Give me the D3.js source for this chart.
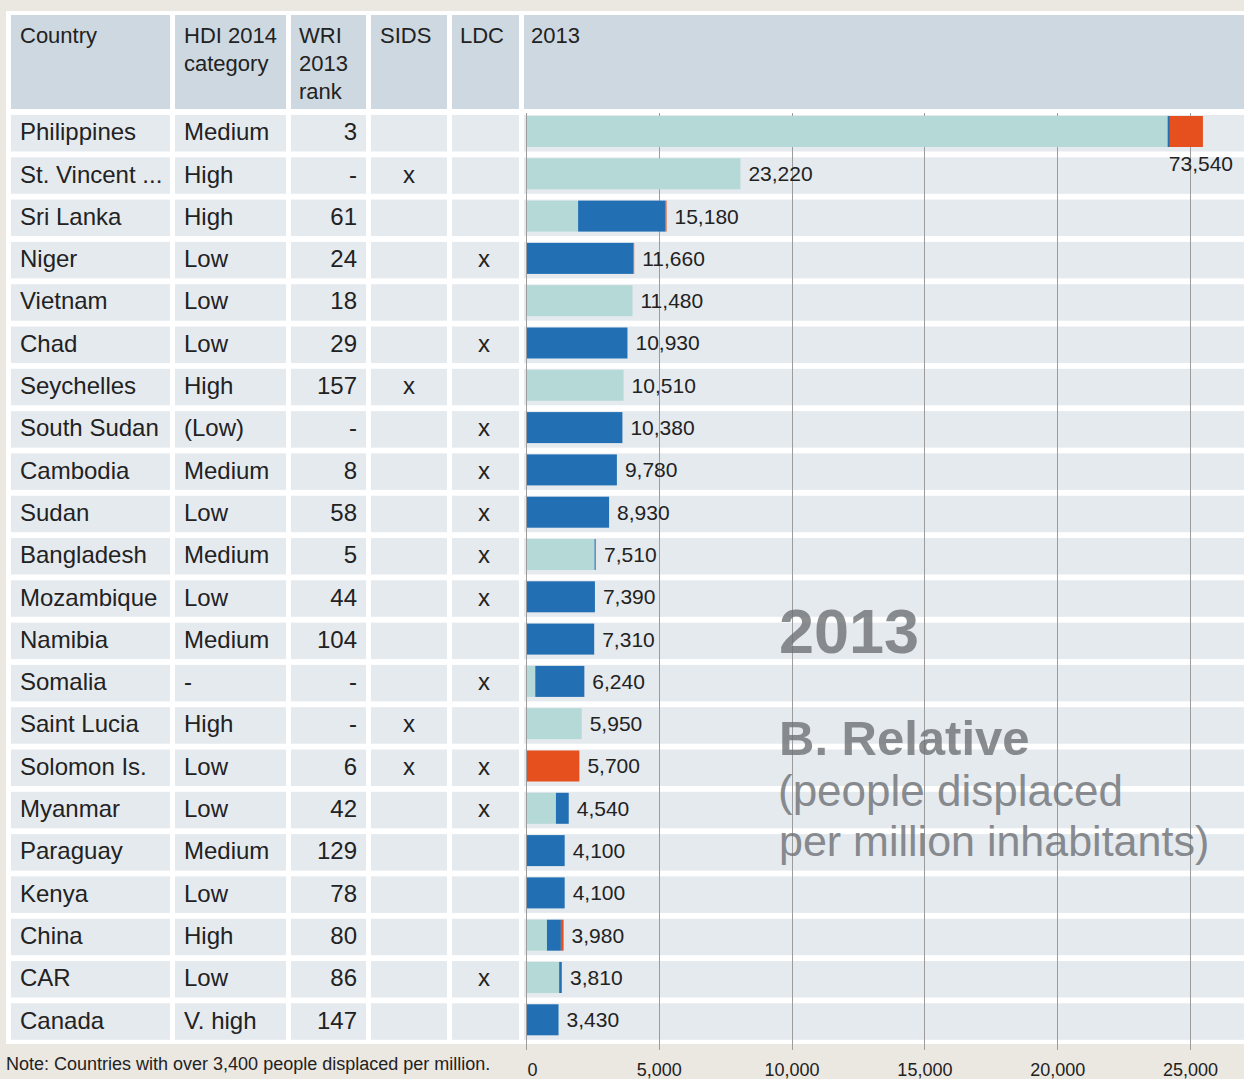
<!DOCTYPE html>
<html><head><meta charset="utf-8">
<script src="https://cdn.jsdelivr.net/npm/d3@7"></script>
<style>
html,body{margin:0;padding:0;background:#ebe7e1;}
svg{display:block;font-family:"Liberation Sans",Arial,sans-serif;}
</style>
</head><body>
<svg id="c" width="1244" height="1079"></svg>
<script>
// ---------------- DATA ----------------
const countries = ["Philippines","St. Vincent ...","Sri Lanka","Niger","Vietnam","Chad","Seychelles","South Sudan","Cambodia","Sudan","Bangladesh","Mozambique","Namibia","Somalia","Saint Lucia","Solomon Is.","Myanmar","Paraguay","Kenya","China","CAR","Canada"];
const hdiCategory = ["Medium","High","High","Low","Low","Low","High","(Low)","Medium","Low","Medium","Low","Medium","-","High","Low","Low","Medium","Low","High","Low","V. high"];
const wriRank = ["3","-","61","24","18","29","157","-","8","58","5","44","104","-","-","6","42","129","78","80","86","147"];
const sids = [false,true,false,false,false,false,true,false,false,false,false,false,false,false,true,true,false,false,false,false,false,false];
const ldc  = [false,false,false,true,false,true,false,true,true,true,true,true,false,true,false,true,true,false,false,false,true,false];
// stacked segments (people displaced per million), light teal / blue / orange
const tealValues   = [69700,23220,5560,0,11480,0,10510,0,0,0,7350,0,0,900,5950,0,3150,0,0,2170,3500,0];
const blueValues   = [250,0,9520,11560,0,10930,0,10380,9780,8930,80,7390,7310,5340,0,0,1390,4100,4100,1520,280,3430];
const orangeValues = [3590,0,100,100,0,0,0,0,0,0,80,0,0,0,0,5700,0,0,0,290,30,0];
const totals = [73540,23220,15180,11660,11480,10930,10510,10380,9780,8930,7510,7390,7310,6240,5950,5700,4540,4100,4100,3980,3810,3430];
const axisTicks = [0,5000,10000,15000,20000,25000];
const headers = [["Country"],["HDI 2014","category"],["WRI","2013","rank"],["SIDS"],["LDC"],["2013"]];
const noteText = "Note: Countries with over 3,400 people displaced per million.";
const annotation = ["2013","B. Relative","(people displaced","per million inhabitants)"];

// ---------------- LAYOUT ----------------
const W = 1244, H = 1079;
const colBounds = [[11,170],[175,286],[291,366],[371,447],[452,519],[524,1244]];
const colors = {teal:"#b4d9d6", blue:"#2270b3", orange:"#e5501e",
  header:"#cdd8e1", row:"#e5eaef", grid:"#9c9c9c", text:"#222222"};

const svg = d3.select("#c");
svg.append("rect").attr("width",W).attr("height",H).attr("fill","#ebe7e1");
svg.append("rect").attr("x",6).attr("y",11).attr("width",W-6).attr("height",1033).attr("fill","#ffffff");

const y = d3.scaleBand().domain(countries).range([115, 1039.8]).paddingInner(0.137).paddingOuter(0);
const xBar = d3.scaleLinear().domain([0,78000]).range([527, 527 + 78000/108.8]);
const xAxis = d3.scaleLinear().domain([0,25000]).range([526, 1190]);

// header
const hg = svg.append("g");
colBounds.forEach((b,i)=>{
  hg.append("rect").attr("x",b[0]).attr("y",15).attr("width",b[1]-b[0]).attr("height",94).attr("fill",colors.header);
});
const headerX = [20,184,299,380,460,531];
headers.forEach((lines,i)=>{
  lines.forEach((t,j)=>{
    hg.append("text").attr("x",headerX[i]).attr("y",43+j*28)
      .attr("font-size",22).attr("fill",colors.text).text(t);
  });
});

// row backgrounds
const rg = svg.append("g");
countries.forEach(c=>{
  colBounds.forEach(b=>{
    rg.append("rect").attr("x",b[0]).attr("y",y(c)).attr("width",b[1]-b[0]).attr("height",y.bandwidth()).attr("fill",colors.row);
  });
});

// gridlines
const gg = svg.append("g");
gg.selectAll("line").data(axisTicks).join("line")
  .attr("x1",d=>Math.round(xAxis(d))+0.5).attr("x2",d=>Math.round(xAxis(d))+0.5)
  .attr("y1",113).attr("y2",1050)
  .attr("stroke",colors.grid).attr("stroke-width",1);

// table text
const tg = svg.append("g").attr("font-size",24).attr("fill",colors.text);
countries.forEach((c,i)=>{
  const by = y(c) + y.bandwidth()/2 + 7;
  tg.append("text").attr("x",20).attr("y",by).text(c);
  tg.append("text").attr("x",184).attr("y",by).text(hdiCategory[i]);
  tg.append("text").attr("x",357).attr("y",by).attr("text-anchor","end").text(wriRank[i]);
  if (sids[i]) tg.append("text").attr("x",409).attr("y",by).attr("text-anchor","middle").text("x");
  if (ldc[i]) tg.append("text").attr("x",484).attr("y",by).attr("text-anchor","middle").text("x");
});

// bars
const bg = svg.append("g");
countries.forEach((c,i)=>{
  const segs = [[tealValues[i],colors.teal],[blueValues[i],colors.blue],[orangeValues[i],colors.orange]];
  let acc = 0;
  segs.forEach(([v,col])=>{
    if (v>0){
      bg.append("rect").attr("x",xBar(acc)).attr("y",y(c)+1)
        .attr("width",xBar(acc+v)-xBar(acc)).attr("height",31).attr("fill",col);
      acc += v;
    }
  });
});

// value labels
const fmt = d3.format(",");
const lg = svg.append("g").attr("font-size",21).attr("fill",colors.text);
countries.forEach((c,i)=>{
  const end = xBar(totals[i]);
  if (end + 9 + 70 > W) {
    lg.append("text").attr("x",end-2).attr("y",y(c)+48).attr("dominant-baseline","central")
      .attr("text-anchor","middle").text(fmt(totals[i]));
  } else {
    lg.append("text").attr("x",end+8).attr("y",y(c)+1+15.5).attr("dominant-baseline","central")
      .text(fmt(totals[i]));
  }
});

// axis labels
const ax = svg.append("g").attr("transform","translate(0,1063)")
  .call(d3.axisBottom(xAxis).tickValues(axisTicks).tickFormat(d3.format(",")).tickSize(0).tickPadding(0));
ax.select(".domain").remove();
ax.selectAll("text").attr("font-size",18).attr("font-family","'Liberation Sans',Arial,sans-serif").attr("fill",colors.text)
  .attr("text-anchor",d=>d===0?"start":"middle").attr("dx",d=>d===0?1:0);

// note
svg.append("text").attr("x",6).attr("y",1070).attr("font-size",18).attr("fill",colors.text).text(noteText);

// annotation
const an = svg.append("g").attr("fill","#6f7275").attr("opacity",0.8);
an.append("text").attr("x",779).attr("y",653).attr("font-size",63).attr("font-weight","bold").text(annotation[0]);
an.append("text").attr("x",779).attr("y",755).attr("font-size",49).attr("font-weight","bold").text(annotation[1]);
an.append("text").attr("x",778).attr("y",806).attr("font-size",44).text(annotation[2]);
an.append("text").attr("x",779).attr("y",856).attr("font-size",43).text(annotation[3]);
</script>
</body></html>
